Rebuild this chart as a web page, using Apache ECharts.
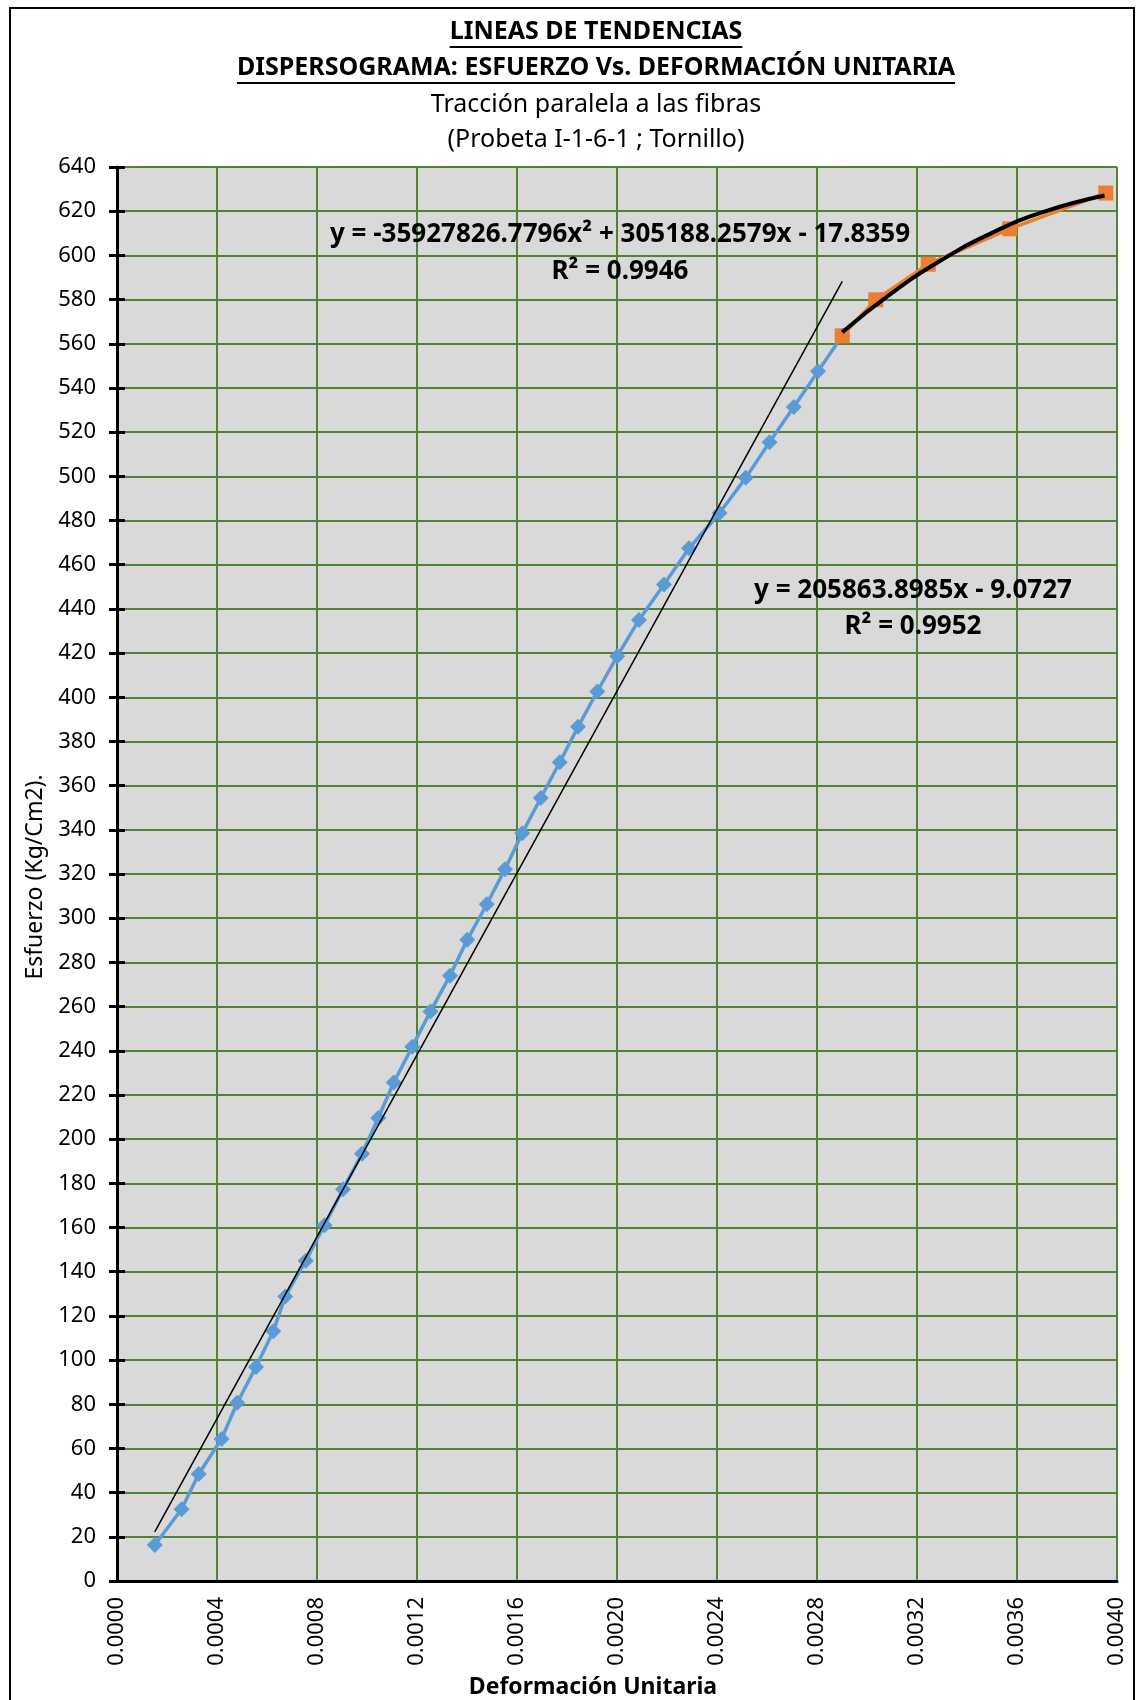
<!DOCTYPE html>
<html>
<head>
<meta charset="utf-8">
<title>Lineas de tendencias</title>
<script src="https://cdn.jsdelivr.net/npm/echarts@6/dist/echarts.min.js"></script>
<style>
  html, body { margin: 0; padding: 0; background: #fff; }
  #chart { width: 1136px; height: 1700px; }
</style>
</head>
<body>
<div id="chart"></div>
<script>
// deformacion unitaria / esfuerzo (Kg/Cm2)
const strainBlue = [
  0.000151, 0.000258, 0.000327, 0.000418, 0.000481, 0.000556, 0.000625, 0.000673,
  0.000755, 0.000830, 0.000904, 0.000980, 0.001045, 0.001107, 0.001181, 0.001254,
  0.001332, 0.001401, 0.001479, 0.001552, 0.001621, 0.001695, 0.001771, 0.001844,
  0.001921, 0.002001, 0.002088, 0.002188, 0.002288, 0.002410, 0.002515, 0.002610,
  0.002707, 0.002804, 0.002901
];
const stressBlue = [
  16.3, 32.5, 48.4, 64.3, 80.7, 96.9, 113.0, 128.8,
  145.0, 161.0, 177.3, 193.4, 209.6, 225.6, 241.8, 257.8,
  274.0, 290.2, 306.3, 322.2, 338.5, 354.4, 370.6, 386.6,
  402.6, 418.6, 435.0, 451.0, 467.4, 483.4, 499.3, 515.4,
  531.4, 547.5, 563.6
];
const strainOrange = [0.002901, 0.003035, 0.003245, 0.003571, 0.003955];
const stressOrange = [563.6, 579.9, 596.0, 612.0, 628.2];

// trend lines as they appear on the chart
const linTrendX = [0.000151, 0.002901];
const linTrendY = [22.2, 588.2];
const polyTrendX = [0.002901, 0.0031, 0.0033, 0.0035, 0.0037, 0.00395];
const polyTrendY = [565.2, 583.0, 598.0, 610.2, 619.5, 627.1];

const titleLines = [
  'LINEAS DE TENDENCIAS',
  'DISPERSOGRAMA: ESFUERZO Vs. DEFORMACIÓN UNITARIA',
  'Tracción paralela a las fibras',
  '(Probeta I-1-6-1 ; Tornillo)'
];
const polyEqText = ['y = -35927826.7796x² + 305188.2579x - 17.8359', 'R² = 0.9946'];
const linEqText = ['y = 205863.8985x - 9.0727', 'R² = 0.9952'];

const FONT = '"Noto Sans", "Open Sans", sans-serif';
const gridGreen = '#548235';

const zip = (xs, ys) => xs.map((x, i) => [x, ys[i]]);

function textWidth(str, font) {
  const ctx = document.createElement('canvas').getContext('2d');
  ctx.font = font;
  return ctx.measureText(str).width;
}

const chart = echarts.init(document.getElementById('chart'));

const cx = 596;
const graphics = [];

// outer frame
graphics.push({
  type: 'rect', shape: { x: 10, y: 8, width: 1124, height: 1720 },
  style: { fill: null, stroke: '#000', lineWidth: 2 }, z: 0
});

// title lines (first two bold + underlined)
const titleY = [32, 68, 105, 140];
titleLines.forEach((line, i) => {
  const bold = i < 2;
  const size = 25;
  const font = (bold ? 'bold ' : '') + size + 'px ' + FONT;
  graphics.push({
    type: 'text', x: cx, y: titleY[i],
    style: { text: line, fill: '#000', align: 'center', verticalAlign: 'middle', font: font }
  });
  if (bold) {
    const w = textWidth(line, font);
    graphics.push({
      type: 'line',
      shape: { x1: cx - w / 2, y1: titleY[i] + 15, x2: cx + w / 2, y2: titleY[i] + 15 },
      style: { stroke: '#000', lineWidth: 2 }
    });
  }
});

// trend line equations
[[620, 235, polyEqText[0]], [620, 272, polyEqText[1]],
 [913, 591, linEqText[0]], [913, 627, linEqText[1]]].forEach(([x, y, t]) => {
  graphics.push({
    type: 'text', x: x, y: y, z: 100,
    style: { text: t, fill: '#000', align: 'center', verticalAlign: 'middle', font: 'bold 26px ' + FONT }
  });
});

// axis names
graphics.push({
  type: 'text', x: 35, y: 877, rotation: Math.PI / 2,
  style: { text: 'Esfuerzo (Kg/Cm2).', fill: '#000', align: 'center', verticalAlign: 'middle', font: '23px ' + FONT }
});
graphics.push({
  type: 'text', x: 593, y: 1687,
  style: { text: 'Deformación Unitaria', fill: '#000', align: 'center', verticalAlign: 'middle', font: 'bold 23px ' + FONT }
});

const option = {
  animation: false,
  backgroundColor: '#fff',
  textStyle: { fontFamily: FONT },
  grid: {
    left: 117, top: 167, right: 19, bottom: 119,
    show: true, backgroundColor: '#d9d9d9', borderWidth: 0
  },
  xAxis: {
    type: 'value', min: 0, max: 0.004, interval: 0.0004,
    axisLine: { show: true, onZero: false, lineStyle: { color: '#000', width: 3 } },
    axisTick: { show: false },
    splitLine: { show: true, lineStyle: { color: gridGreen, width: 2 } },
    axisLabel: {
      rotate: 90, margin: 16, color: '#000', fontSize: 22, fontFamily: FONT,
      formatter: v => v.toFixed(4)
    }
  },
  yAxis: [
    {
      type: 'value', min: 0, max: 640, interval: 20,
      axisLine: { show: true, onZero: false, lineStyle: { color: '#000', width: 3 } },
      axisTick: { show: true, length: 8, lineStyle: { color: '#000', width: 3 } },
      splitLine: { show: true, lineStyle: { color: gridGreen, width: 2 } },
      axisLabel: { margin: 21, color: '#000', fontSize: 22, fontFamily: FONT }
    },
    {
      type: 'value', min: 0, max: 640, interval: 20, position: 'left',
      axisLine: { show: false },
      axisTick: { show: true, inside: true, length: 8, lineStyle: { color: '#000', width: 3 } },
      splitLine: { show: false },
      axisLabel: { show: false }
    }
  ],
  series: [
    {
      name: 'Esfuerzo', type: 'line', data: zip(strainBlue, stressBlue),
      symbol: 'diamond', symbolSize: 16, showSymbol: true,
      lineStyle: { color: '#5b9bd5', width: 3.5 },
      itemStyle: { color: '#5b9bd5' }, z: 3
    },
    {
      name: 'Esfuerzo 2', type: 'line', data: zip(strainOrange, stressOrange),
      symbol: 'rect', symbolSize: 15,
      lineStyle: { color: '#ed7d31', width: 3.5 },
      itemStyle: { color: '#ed7d31' }, z: 4
    },
    {
      name: 'Lineal', type: 'line', data: zip(linTrendX, linTrendY),
      symbol: 'none', lineStyle: { color: '#000', width: 1.5 }, z: 5
    },
    {
      name: 'Polinomica', type: 'line', data: zip(polyTrendX, polyTrendY),
      symbol: 'none', smooth: true, lineStyle: { color: '#000', width: 4 }, z: 6
    }
  ],
  graphic: graphics
};

chart.setOption(option);
</script>
</body>
</html>
